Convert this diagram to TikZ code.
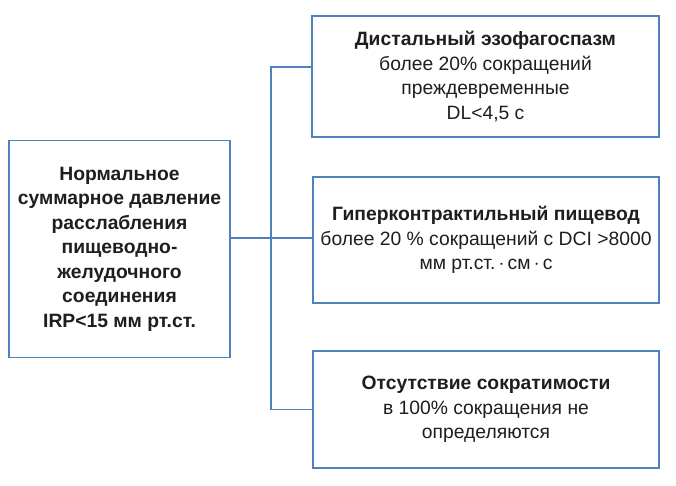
\documentclass[tikz,border=0pt]{standalone}
\usepackage{fontspec}
\setmainfont{Liberation Sans}
\usetikzlibrary{positioning}
\definecolor{boxblue}{HTML}{4F81BD}
\definecolor{txtgray}{HTML}{1E1E1E}
\tikzset{
  box/.style={draw=boxblue, line width=1.6pt, fill=white, text=txtgray, align=center, inner sep=0pt, font=\fontsize{19.3}{24.5}\selectfont},
  link/.style={draw=boxblue, line width=1.6pt}
}

\begin{document}
\begin{tikzpicture}[x=1pt, y=-1pt]
\useasboundingbox (0,0) rectangle (676,485);
\node[box, minimum width=221pt, minimum height=217pt] (IRP) at (119.5, 249) {\textbf{Нормальное}\\\textbf{суммарное давление}\\\textbf{расслабления}\\\textbf{пищеводно-}\\\textbf{желудочного}\\\textbf{соединения}\\\textbf{IRP<15 мм рт.ст.}};
\node[box, minimum width=347pt, minimum height=121pt] (DES) at (485.5, 76.5) {\textbf{Дистальный эзофагоспазм}\\более 20\% сокращений\\преждевременные\\DL<4,5 с};
\node[box, minimum width=346pt, minimum height=126pt] (HYP) at (486, 240) {\textbf{Гиперконтрактильный пищевод}\\более 20 \% сокращений с DCI >8000\\мм рт.ст.\,$\cdot$\,см\,$\cdot$\,с};
\node[box, minimum width=346pt, minimum height=117pt] (ABS) at (486, 409.5) {\textbf{Отсутствие сократимости}\\в 100\% сокращения не\\определяются};
\coordinate (trunk) at (271, 238);
\coordinate (top) at (271, 67);
\draw[link] (IRP.east |- trunk) -- (HYP.west |- trunk);
\draw[link] (DES.west |- top) -- (top) -- (trunk |- ABS.west) -- (ABS.west);
\end{tikzpicture}
\end{document}
